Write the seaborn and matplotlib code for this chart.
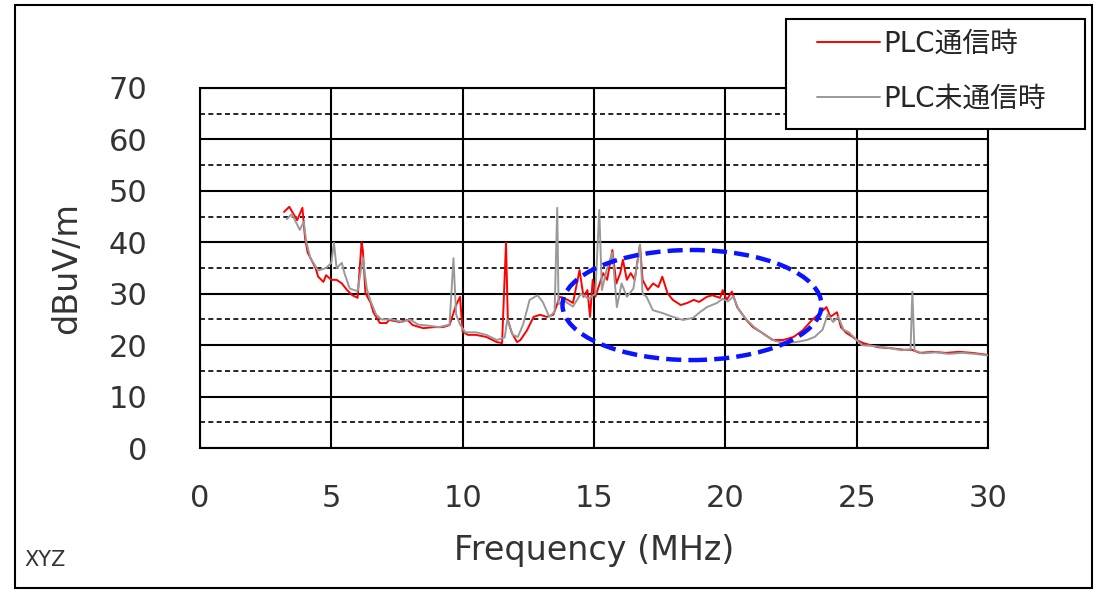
import numpy as np
import pandas as pd
import seaborn as sns
import matplotlib.pyplot as plt
from matplotlib.patches import Ellipse, Rectangle
from matplotlib.ticker import MultipleLocator

# PLC通信時 (red)
red_x = [3.2, 3.4, 3.7, 3.9, 4.0, 4.1, 4.4, 4.5, 4.7, 4.8, 5.0, 5.2, 5.4, 5.6, 5.8, 6.0,
         6.15, 6.2, 6.3, 6.5, 6.6, 6.85, 7.1, 7.2, 7.6, 7.9, 8.1, 8.5, 8.9, 9.25, 9.5, 9.75,
         9.9, 10.0, 10.2, 10.5, 10.9, 11.3, 11.5, 11.65, 11.72, 11.87, 12.07, 12.2, 12.45,
         12.7, 12.95, 13.2, 13.45, 13.7, 14.0, 14.2, 14.45, 14.6, 14.75, 14.85, 14.95, 15.05,
         15.35, 15.5, 15.7, 15.85, 16.0, 16.1, 16.25, 16.4, 16.55, 16.75, 16.85, 17.05, 17.25,
         17.45, 17.6, 17.8, 18.0, 18.3, 18.55, 18.8, 19.0, 19.3, 19.5, 19.8, 19.9, 20.05,
         20.25, 20.45, 20.8, 21.05, 21.4, 21.8, 22.2, 22.6, 22.95, 23.3, 23.6, 23.85, 24.0,
         24.25, 24.4, 24.6, 24.85, 25.0, 25.25, 25.8, 26.3, 26.8, 27.1, 27.4, 27.9, 28.4,
         28.9, 29.4, 30.0]
red_y = [45.9, 46.9, 44.3, 46.7, 40.8, 38.0, 35.0, 33.3, 32.3, 33.6, 32.7, 32.7, 32.0, 30.7,
         29.7, 29.2, 39.9, 38.5, 30.1, 28.2, 26.4, 24.3, 24.3, 24.9, 24.5, 24.9, 23.9, 23.3,
         23.5, 23.5, 23.9, 27.8, 29.4, 22.6, 22.0, 22.0, 21.6, 20.6, 20.4, 39.9, 24.9, 22.4,
         20.6, 21.0, 22.9, 25.5, 25.9, 25.5, 25.9, 29.4, 28.8, 28.2, 34.6, 29.4, 30.7, 25.5,
         32.7, 29.4, 34.0, 32.7, 38.5, 32.0, 34.0, 36.6, 32.7, 34.0, 32.7, 39.5, 32.7, 30.7,
         32.0, 31.3, 33.3, 30.1, 28.8, 27.8, 28.2, 28.8, 28.4, 29.4, 29.7, 29.2, 30.7, 28.8,
         30.4, 27.4, 24.9, 23.5, 22.4, 21.0, 21.0, 21.6, 22.9, 24.9, 26.2, 27.4, 25.5, 26.4,
         23.5, 22.4, 21.6, 21.0, 20.4, 19.6, 19.4, 19.1, 19.1, 18.5, 18.7, 18.5, 18.7, 18.5,
         18.1]

# PLC未通信時 (gray)
gray_x = [3.3, 3.5, 3.8, 3.95, 4.05, 4.2, 4.5, 4.8, 5.0, 5.1, 5.2, 5.4, 5.5, 5.7, 6.0, 6.2,
          6.35, 6.5, 6.7, 6.9, 7.3, 7.7, 8.0, 8.3, 8.7, 9.1, 9.5, 9.65, 9.75, 9.9, 10.1, 10.5,
          10.9, 11.3, 11.6, 11.7, 11.9, 12.1, 12.3, 12.55, 12.85, 13.05, 13.3, 13.5, 13.6,
          13.65, 13.9, 14.2, 14.5, 14.8, 15.05, 15.2, 15.3, 15.5, 15.7, 15.87, 16.05, 16.25,
          16.5, 16.75, 16.85, 17.0, 17.24, 17.63, 18.0, 18.39, 18.77, 19.03, 19.3, 19.68,
          19.9, 20.1, 20.3, 20.5, 20.8, 21.1, 21.5, 21.9, 22.3, 22.7, 23.1, 23.4, 23.7, 23.9,
          24.1, 24.3, 24.5, 24.7, 24.9, 25.2, 25.7, 26.2, 26.7, 27.05, 27.12, 27.2, 27.5,
          28.0, 28.5, 29.0, 29.5, 30.0]
gray_y = [44.5, 45.5, 42.4, 44.0, 40.0, 37.0, 34.5, 35.0, 36.0, 39.9, 35.0, 36.0, 34.0, 31.0,
          30.5, 37.0, 31.0, 28.5, 26.0, 25.0, 25.0, 24.5, 25.0, 24.0, 23.8, 23.5, 24.0, 36.9,
          26.0, 24.0, 22.5, 22.5, 22.0, 21.0, 21.5, 25.0, 22.0, 21.6, 24.0, 28.8, 29.7, 28.4,
          25.5, 26.5, 46.7, 28.0, 28.5, 27.5, 30.0, 29.0, 30.0, 46.3, 30.7, 35.0, 38.0, 27.4,
          32.0, 29.4, 31.0, 39.5, 30.0, 29.4, 26.8, 26.2, 25.5, 24.9, 25.3, 26.4, 27.4, 28.2,
          29.0, 28.5, 29.5, 27.0, 25.0, 23.5, 22.0, 20.8, 20.4, 20.6, 21.0, 21.6, 23.0, 26.0,
          24.5, 25.5, 23.0, 22.5, 21.5, 20.0, 19.8, 19.5, 19.0, 19.2, 30.4, 19.0, 18.4, 18.6,
          18.3, 18.5, 18.3, 18.0]

labels = ["PLC通信時", "PLC未通信時"]

df = pd.concat([
    pd.DataFrame({"freq": red_x, "level": red_y, "series": labels[0]}),
    pd.DataFrame({"freq": gray_x, "level": gray_y, "series": labels[1]}),
])

sns.set_style("white")
plt.rcParams["font.family"] = ["DejaVu Sans", "Noto Sans CJK JP"]

fig = plt.figure(figsize=(11, 5.92), dpi=100)
ax = fig.add_axes([0.1818, 0.2432, 0.7164, 0.6082])

sns.lineplot(data=df, x="freq", y="level", hue="series", hue_order=labels,
             palette={labels[0]: "#ff0000", labels[1]: "#999999"},
             linewidth=1.4, estimator=None, sort=False, ax=ax, zorder=3)

ax.set_xlim(0, 30)
ax.set_ylim(0, 70)
ax.xaxis.set_major_locator(MultipleLocator(5))
ax.yaxis.set_major_locator(MultipleLocator(10))
ax.yaxis.set_minor_locator(MultipleLocator(5))
ax.grid(True, which="major", color="black", linewidth=1.5, linestyle="-")
ax.grid(True, which="minor", axis="y", color="black", linewidth=1.2, linestyle=(0, (3, 2)))
ax.set_axisbelow(True)
for s in ax.spines.values():
    s.set_color("black")
    s.set_linewidth(1.5)
ax.tick_params(which="both", length=0)
ax.tick_params(axis="x", pad=26, labelsize=22, colors="#333333")
ax.tick_params(axis="y", pad=38, labelsize=22, colors="#333333")
ax.set_xlabel("Frequency (MHz)", fontsize=24, color="#333333", labelpad=15)
ax.set_ylabel("dBuV/m", fontsize=24, color="#333333", labelpad=18)

# highlight ellipse
ax.add_patch(Ellipse((18.73, 27.8), 9.86, 21.4, fill=False, edgecolor="#0a14ff",
                     linewidth=3.2, linestyle=(0, (3.4, 1.6)), zorder=5, clip_on=False))

# legend: frame drawn separately so the padding matches the original
handles, labs = ax.get_legend_handles_labels()
ax.get_legend().remove()
fig.add_artist(Rectangle((0.7145, 0.7821), 0.2718, 0.1858, transform=fig.transFigure,
                         facecolor="white", edgecolor="black", linewidth=1.5, zorder=5))
leg = fig.legend(handles, labs, loc="upper left", bbox_to_anchor=(817 / 1100, 1 - 30 / 592),
                 frameon=False, fontsize=20, handlelength=2.27, labelspacing=0.95,
                 borderpad=0, borderaxespad=0, handletextpad=0.1)
leg.set_zorder(10)

fig.text(0.022, 0.054, "XYZ", fontsize=15, color="#333333", va="center")
fig.add_artist(Rectangle((0.0136, 0.0068), 0.979, 0.985, transform=fig.transFigure,
                         fill=False, edgecolor="black", linewidth=1.5))

fig.savefig("out.png", dpi=100)
